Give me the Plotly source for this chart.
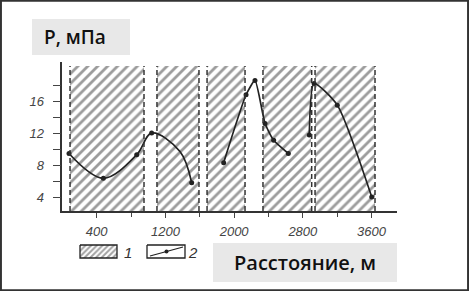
import plotly.graph_objects as go

# ---------------- data ----------------
region_start = [90, 1102, 1685, 2336, 2942]      # hatched zones (type 1), m
region_end = [951, 1591, 2127, 2903, 3640]
region_top = 20.4                                 # MPa
axis_bottom = 2.25

c1_x = [78, 478, 866, 1040, 1370, 1506]
c1_y = [9.45, 6.35, 9.3, 12.0, 9.7, 5.8]
c1_marked = [True, True, True, True, False, True]

c2_x = [1878, 2139, 2243, 2360, 2460, 2631]
c2_y = [8.3, 16.8, 18.6, 13.2, 11.1, 9.45]
c2_marked = [True, True, True, True, True, True]

c3_x = [2875, 2931, 3201, 3602]
c3_y = [11.75, 18.2, 15.5, 4.0]
c3_marked = [True, True, True, True]

x_ticks = [400, 1200, 2000, 2800, 3600]
x_minor = [800, 1600, 2400, 3200]
y_ticks = [4, 8, 12, 16]
y_minor = [6, 10, 14, 18]

# ---------------- figure ----------------
W, H = 469, 291
def fx(px):
    return px / W
def fy(py):
    return 1 - py / H

INK = "#222222"
fig = go.Figure()

# hatched zones
fig.add_trace(go.Bar(
    x=[(s + e) / 2 for s, e in zip(region_start, region_end)],
    width=[e - s for s, e in zip(region_start, region_end)],
    y=[region_top - axis_bottom] * len(region_start),
    base=axis_bottom,
    marker=dict(color="white", line=dict(width=0),
                pattern=dict(shape="/", size=7, solidity=0.4,
                             fgcolor="#3a3a3a", bgcolor="white")),
    showlegend=False, hoverinfo="skip", xaxis="x", yaxis="y",
))

for xs, ys, mk, sm in [(c1_x, c1_y, c1_marked, 1.0),
                       (c2_x, c2_y, c2_marked, 0.5),
                       (c3_x, c3_y, c3_marked, 0.6)]:
    fig.add_trace(go.Scatter(x=xs, y=ys, mode="lines",
                             line=dict(color=INK, width=1.7, shape="spline", smoothing=sm),
                             showlegend=False, hoverinfo="skip"))
    fig.add_trace(go.Scatter(x=[a for a, m in zip(xs, mk) if m],
                             y=[b for b, m in zip(ys, mk) if m],
                             mode="markers", marker=dict(color=INK, size=5),
                             showlegend=False, hoverinfo="skip"))

shapes = []
for s, e in zip(region_start, region_end):
    for xv in (s, e):
        shapes.append(dict(type="line", xref="x", yref="y", x0=xv, x1=xv,
                           y0=axis_bottom, y1=region_top, layer="above",
                           line=dict(color="#333", width=1.5, dash="5px,3px")))

# legend swatches drawn in a small pixel-space overlay axis
LX0, LX1, LY0, LY1 = 74, 205, 240, 262
fig.add_trace(go.Scatter(x=[80, 117, 117, 80, 80], y=[245, 245, 258, 258, 245],
                         fill="toself", mode="lines",
                         fillpattern=dict(shape="/", size=4, solidity=0.5,
                                          fgcolor="#444", bgcolor="white"),
                         line=dict(color=INK, width=1.3),
                         xaxis="x2", yaxis="y2", showlegend=False, hoverinfo="skip"))
fig.add_trace(go.Scatter(x=[147, 185, 185, 147, 147], y=[245, 245, 258, 258, 245],
                         mode="lines", line=dict(color=INK, width=1.3),
                         xaxis="x2", yaxis="y2", showlegend=False, hoverinfo="skip"))
fig.add_trace(go.Scatter(x=[150, 183], y=[256, 247], mode="lines",
                         line=dict(color=INK, width=1.2),
                         xaxis="x2", yaxis="y2", showlegend=False, hoverinfo="skip"))
fig.add_trace(go.Scatter(x=[166.5], y=[251.5], mode="markers",
                         marker=dict(color=INK, size=4),
                         xaxis="x2", yaxis="y2", showlegend=False, hoverinfo="skip"))

# grey title boxes
shapes.append(dict(type="rect", xref="paper", yref="paper",
                   x0=fx(32), x1=fx(130), y0=fy(55), y1=fy(19),
                   fillcolor="#e8e8e8", line=dict(width=0), layer="below"))
shapes.append(dict(type="rect", xref="paper", yref="paper",
                   x0=fx(213), x1=fx(397), y0=fy(282), y1=fy(243),
                   fillcolor="#e8e8e8", line=dict(width=0), layer="below"))
# outer frame
shapes.append(dict(type="rect", xref="paper", yref="paper",
                   x0=0.002, x1=0.998, y0=0.003, y1=0.997,
                   line=dict(color="#333", width=2), layer="above"))

annotations = [
    dict(text="P, мПа", x=fx(75), y=fy(37), xref="paper", yref="paper",
         showarrow=False, xanchor="center", yanchor="middle",
         font=dict(family="Open Sans", size=19, color="#111", weight=600)),
    dict(text="Расстояние, м", x=fx(305), y=fy(262), xref="paper", yref="paper",
         showarrow=False, xanchor="center", yanchor="middle",
         font=dict(family="Open Sans", size=20, color="#111", weight=600)),
    dict(text="1", x=fx(128), y=fy(252), xref="paper", yref="paper",
         showarrow=False, xanchor="center", yanchor="middle",
         font=dict(family="Liberation Sans", size=15, color="#333", style="italic")),
    dict(text="2", x=fx(193), y=fy(252), xref="paper", yref="paper",
         showarrow=False, xanchor="center", yanchor="middle",
         font=dict(family="Liberation Sans", size=15, color="#333", style="italic")),
]

tickfont = dict(family="Liberation Sans", size=13, color="#444", style="italic")

fig.update_layout(
    width=W, height=H, margin=dict(l=0, r=0, t=0, b=0),
    paper_bgcolor="white", plot_bgcolor="rgba(0,0,0,0)",
    bargap=0, showlegend=False,
    shapes=shapes, annotations=annotations,
    xaxis=dict(domain=[fx(62.3), fx(397)], range=[0, 3896], anchor="y",
               showgrid=False, zeroline=False, showline=True,
               linecolor="#333", linewidth=1.5,
               tickvals=x_ticks, ticktext=[str(v) for v in x_ticks],
               ticks="outside", ticklen=5, tickwidth=1.2, tickcolor="#444",
               minor=dict(tickvals=x_minor, ticks="outside", ticklen=4,
                          tickwidth=1.2, tickcolor="#444"),
               tickfont=tickfont, ticklabelstandoff=3),
    yaxis=dict(domain=[fy(211), fy(62)], range=[axis_bottom, 20.9], anchor="x",
               showgrid=False, zeroline=False, showline=True,
               linecolor="#333", linewidth=1.5,
               tickvals=y_ticks, ticktext=[str(v) for v in y_ticks],
               ticks="outside", ticklen=8, tickwidth=1.2, tickcolor="#444",
               minor=dict(tickvals=y_minor, ticks="outside", ticklen=8,
                          tickwidth=1.2, tickcolor="#444"),
               tickfont=tickfont, ticklabelstandoff=6),
    xaxis2=dict(domain=[fx(LX0), fx(LX1)], range=[LX0, LX1], anchor="y2",
                visible=False, fixedrange=True),
    yaxis2=dict(domain=[fy(LY1), fy(LY0)], range=[LY1, LY0], anchor="x2",
                visible=False, fixedrange=True),
)

fig.write_html("out.html", config={"displayModeBar": False},
               post_script="document.body.style.margin='0';document.body.style.overflow='hidden';")
